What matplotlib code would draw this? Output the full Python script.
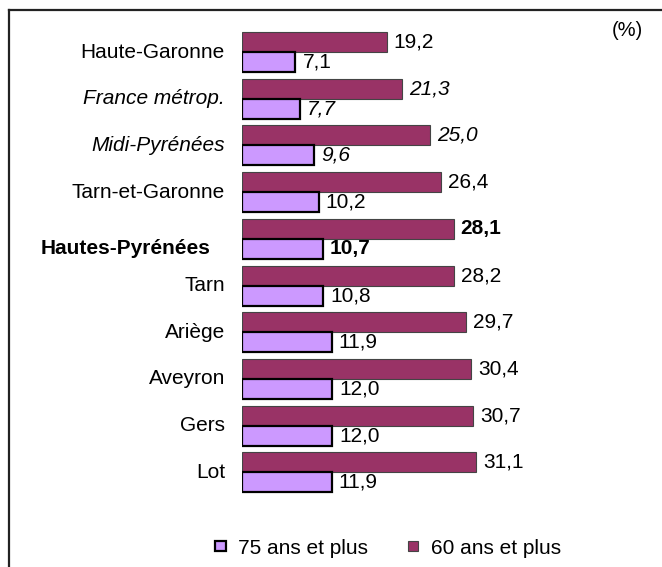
import matplotlib
matplotlib.use('Agg')
import matplotlib.pyplot as plt
import matplotlib.patches as mpatches
from matplotlib.lines import Line2D

plt.rcParams['font.family'] = ['Liberation Sans', 'DejaVu Sans']

departements = ["Haute-Garonne", "France métrop.", "Midi-Pyrénées", "Tarn-et-Garonne",
                "Hautes-Pyrénées", "Tarn", "Ariège", "Aveyron", "Gers", "Lot"]
plus_60 = [19.2, 21.3, 25.0, 26.4, 28.1, 28.2, 29.7, 30.4, 30.7, 31.1]
plus_75 = [7.1, 7.7, 9.6, 10.2, 10.7, 10.8, 11.9, 12.0, 12.0, 11.9]
styles = ["normal", "italic", "italic", "normal", "bold",
          "normal", "normal", "normal", "normal", "normal"]

col_60 = '#993366'
col_75 = '#CC99FF'

W, H = 662, 567
fig = plt.figure(figsize=(W / 100, H / 100), dpi=100)

# axes from the bar origin (x=242px) to the right edge
px_per_unit = 7.53
x0 = 242
ax = fig.add_axes([x0 / W, 0, (W - x0) / W, 1])
ax.set_xlim(0, (W - x0) / px_per_unit)
row_h = 46.7
top = 52
ax.set_ylim((H - top) / row_h, -top / row_h)
ax.axis('off')

bh = 20 / row_h
fs = 15

for i, (name, v60, v75, st) in enumerate(zip(departements, plus_60, plus_75, styles)):
    ax.barh(i - bh / 2, v60, height=bh, color=col_60, edgecolor='#444444', linewidth=0.8)
    ax.barh(i + bh / 2, v75, height=bh, color=col_75, edgecolor='black', linewidth=1.6)

    kw = dict(fontsize=fs, va='center')
    if st == 'italic':
        kw['style'] = 'italic'
    elif st == 'bold':
        kw['weight'] = 'bold'

    ax.annotate(f"{v60:.1f}".replace('.', ','), (v60, i - bh / 2), xytext=(7, 0),
                textcoords='offset pixels', ha='left', **kw)
    ax.annotate(f"{v75:.1f}".replace('.', ','), (v75, i + bh / 2), xytext=(7, 0),
                textcoords='offset pixels', ha='left', **kw)

    if st == 'bold':
        ax.annotate(name, (0, i + 0.2), xytext=(-32, 0), textcoords='offset pixels',
                    ha='right', **kw)
    else:
        ax.annotate(name, (0, i), xytext=(-17, 0), textcoords='offset pixels',
                    ha='right', **kw)

fig.text(627 / W, 1 - 30 / H, "(%)", fontsize=14.5, ha='center', va='center')

# frame (top and left only visible)
fig.add_artist(Line2D([9 / W, 1], [1 - 10 / H, 1 - 10 / H], color='#222222', lw=1.6))
fig.add_artist(Line2D([9 / W, 9 / W], [0, 1 - 10 / H], color='#222222', lw=1.6))

handles = [
    mpatches.Patch(facecolor=col_75, edgecolor='black', linewidth=1.6, label='75 ans et plus'),
    mpatches.Patch(facecolor=col_60, edgecolor='#444444', linewidth=0.8, label='60 ans et plus'),
]
fig.legend(handles=handles, loc='center', bbox_to_anchor=(388 / W, 1 - 548 / H), ncol=2,
           frameon=False, fontsize=fs, handlelength=0.5, handleheight=0.38,
           handletextpad=0.6, columnspacing=1.9)

fig.savefig('out.png', dpi=100)
